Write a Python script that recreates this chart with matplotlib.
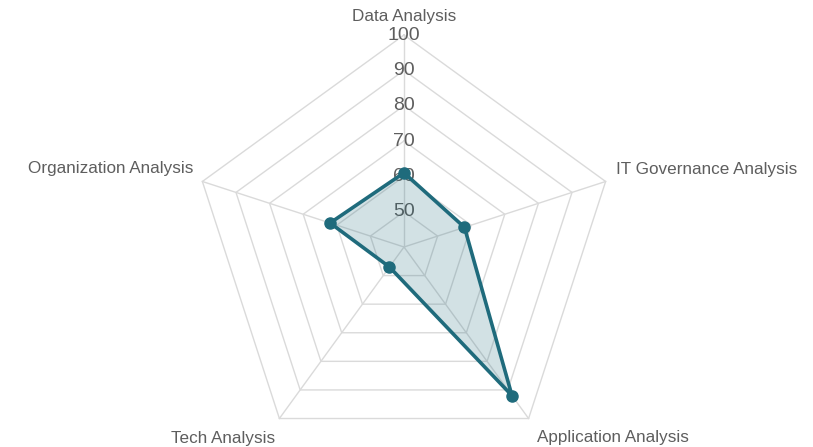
import numpy as np
import matplotlib
matplotlib.use("Agg")
import matplotlib.pyplot as plt

categories = ["Data Analysis", "IT Governance Analysis", "Application Analysis",
              "Tech Analysis", "Organization Analysis"]
scores = [61, 58, 92, 47, 62]
tick_values = [50, 60, 70, 80, 90, 100]
r_min, r_max = 40, 100

line_color = "#1f6b7c"
grid_color = "#dadada"
text_color = "#5e5e5e"

W, H, DPI = 813, 447, 100
fig = plt.figure(figsize=(W / DPI, H / DPI), dpi=DPI)
fig.patch.set_facecolor("white")

# radar centre (pixels from left / from bottom) and outer radius
cx, cy, R = 404, 200, 212
ax = fig.add_axes([(cx - R) / W, (cy - R) / H, 2 * R / W, 2 * R / H], projection="polar")
ax.set_theta_offset(np.pi / 2)
ax.set_theta_direction(-1)
ax.set_ylim(r_min, r_max)
ax.set_xticks([])
ax.set_yticks([])
ax.grid(False)
ax.spines["polar"].set_visible(False)
ax.patch.set_alpha(0)

n = len(categories)
angles = np.arange(n) * 2 * np.pi / n
closed = np.append(angles, angles[0])

# pentagonal rings and spokes
for v in [r_min] + tick_values:
    ax.plot(closed, [v] * (n + 1), color=grid_color, lw=1.0, zorder=1, clip_on=False)
for a in angles:
    ax.plot([a, a], [r_min, r_max], color=grid_color, lw=1.0, zorder=1, clip_on=False)

# tick labels on the top spoke
for v in tick_values:
    ax.text(0, v, str(v), ha="center", va="center", fontsize=14,
            family="Liberation Sans", color=text_color, zorder=2, clip_on=False)

# data polygon
vals = np.append(scores, scores[0])
ax.fill(closed, vals, color=line_color, alpha=0.2, lw=0, zorder=3)
ax.plot(closed, vals, color=line_color, lw=2.6, zorder=4, clip_on=False)
ax.plot(angles, scores, "o", color=line_color, ms=8, zorder=5, clip_on=False)

# category labels around the outer ring
offsets = [(0, 18, "center"), (10, 11.5, "left"), (8, -18.5, "left"),
           (-4, -19.5, "right"), (-9, 12.5, "right")]
for a, name, (dx, dy, ha) in zip(angles, categories, offsets):
    ax.annotate(name, xy=(a, r_max), xytext=(dx, dy), textcoords="offset pixels",
                ha=ha, va="center", fontsize=12.3, family="Liberation Sans",
                color=text_color, annotation_clip=False)

fig.savefig("out.png", dpi=DPI, facecolor="white")
